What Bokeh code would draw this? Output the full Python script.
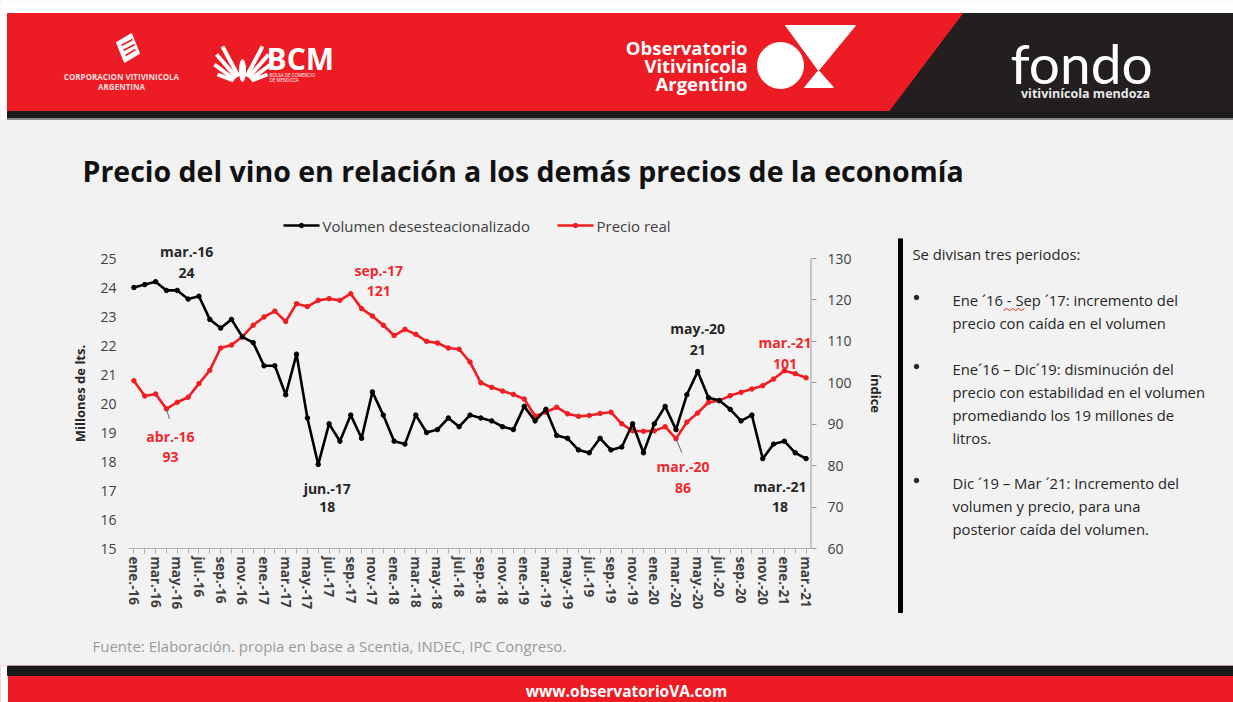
from bokeh.plotting import figure
from bokeh.models import Range1d, LinearAxis, FixedTicker, Label
from bokeh.layouts import column, row
from bokeh.embed import file_html
from bokeh.resources import INLINE
from bokeh.core.properties import value

# ---------------- data ----------------
tick_labels = ["ene.-16", "mar.-16", "may.-16", "jul.-16", "sep.-16", "nov.-16",
               "ene.-17", "mar.-17", "may.-17", "jul.-17", "sep.-17", "nov.-17",
               "ene.-18", "mar.-18", "may.-18", "jul.-18", "sep.-18", "nov.-18",
               "ene.-19", "mar.-19", "may.-19", "jul.-19", "sep.-19", "nov.-19",
               "ene.-20", "mar.-20", "may.-20", "jul.-20", "sep.-20", "nov.-20",
               "ene.-21", "mar.-21"]

volumen = [24.0, 24.1, 24.2, 23.9, 23.9, 23.6, 23.7, 22.9, 22.6, 22.9, 22.3, 22.1,
           21.3, 21.3, 20.3, 21.7, 19.5, 17.9, 19.3, 18.7, 19.6, 18.8, 20.4, 19.6,
           18.7, 18.6, 19.6, 19.0, 19.1, 19.5, 19.2, 19.6, 19.5, 19.4, 19.2, 19.1,
           19.9, 19.4, 19.8, 18.9, 18.8, 18.4, 18.3, 18.8, 18.4, 18.5, 19.3, 18.3,
           19.3, 19.9, 19.1, 20.3, 21.1, 20.2, 20.1, 19.8, 19.4, 19.6, 18.1, 18.6,
           18.7, 18.3, 18.1]

precio = [100.5, 96.8, 97.3, 93.7, 95.3, 96.5, 99.8, 103.0, 108.4, 109.1, 111.1, 113.9,
          115.9, 117.3, 114.8, 119.1, 118.4, 119.9, 120.3, 119.9, 121.5, 117.9, 116.1, 113.9,
          111.4, 112.9, 111.7, 110.0, 109.6, 108.4, 108.1, 105.0, 100.0, 98.9, 98.0, 97.2,
          96.1, 92.0, 92.9, 94.1, 92.5, 91.9, 92.1, 92.6, 92.9, 90.1, 88.4, 88.3,
          88.4, 89.4, 86.5, 90.5, 92.7, 95.3, 95.7, 96.9, 97.7, 98.5, 99.3, 100.9,
          102.9, 102.2, 101.2]

left_ticks = [15, 16, 17, 18, 19, 20, 21, 22, 23, 24, 25]
right_ticks = [60, 70, 80, 90, 100, 110, 120, 130]

# highlighted points: (month index, series, name, value text)
highlights = [(2, "vol", "mar.-16", "24"), (3, "pre", "abr.-16", "93"),
              (20, "pre", "sep.-17", "121"), (17, "vol", "jun.-17", "18"),
              (52, "vol", "may.-20", "21"), (50, "pre", "mar.-20", "86"),
              (62, "pre", "mar.-21", "101"), (62, "vol", "mar.-21", "18")]

side_title = "Se divisan tres periodos:"
side_bullets = [["Ene \u00b416 - Sep \u00b417: incremento del", "precio con ca\u00edda en el volumen"],
                ["Ene\u00b416 \u2013 Dic\u00b419: disminuci\u00f3n del", "precio con estabilidad en el volumen",
                 "promediando los 19 millones de", "litros."],
                ["Dic \u00b419 \u2013 Mar \u00b421: Incremento del", "volumen y precio, para una",
                 "posterior ca\u00edda del volumen."]]

title_text = "Precio del vino en relaci\u00f3n a los dem\u00e1s precios de la econom\u00eda"
source_text = "Fuente: Elaboraci\u00f3n. propia en base a Scentia, INDEC, IPC Congreso."
url_text = "www.observatorioVA.com"
legend_labels = ["Volumen desesteacionalizado", "Precio real"]

# ---------------- styles ----------------
FONT = "Open Sans"
BG = "#f2f2f2"
RED = "#ed1c24"
LINE_RED = "#f01e23"
DARK = "#231f20"
TXT = "#262626"
W = 1233


def canvas(width, x0, x1, y_top, y_bottom, bg):
    return figure(width=width, height=y_bottom - y_top, x_range=Range1d(x0, x1),
                  y_range=Range1d(y_bottom, y_top), x_axis_type=None, y_axis_type=None,
                  min_border=0, toolbar_location=None, output_backend="svg",
                  outline_line_color=None, background_fill_color=bg, border_fill_color=bg)


# ---------------- header (page y 0..120) ----------------
hdr = canvas(W, 0, W, 0, 120, "white")
hdr.quad(left=7, right=W, top=13, bottom=111, color=RED)
hdr.quad(left=7, right=W, top=111, bottom=118, color="#1c1c1c")
hdr.quad(left=7, right=W, top=118, bottom=120, color="#8a8a8a")
hdr.patch(x=[963, W, W, 889], y=[13, 13, 111, 111], color=DARK)

# Corporacion icon
hdr.patch(x=[116, 131, 139, 124], y=[42, 33, 53, 62], color="white")
hdr.multi_line(xs=[[121, 132], [123, 134], [125, 135]], ys=[[45, 39], [50, 44], [55, 49]],
               line_color=RED, line_width=1.5)
hdr.text(x=[121, 121], y=[76, 86], text=["CORPORACION VITIVINICOLA", "ARGENTINA"],
         text_font=value(FONT), text_font_size="8px", text_font_style="bold",
         text_color="#f6dede", text_align="center", text_baseline="middle")

# BCM icon (wings)
hdr.multi_line(xs=[[238, 222], [236, 216], [234, 214], [233, 217], [246, 262], [248, 268], [250, 270], [251, 267]],
               ys=[[76, 46], [77, 54], [79, 64], [80, 74], [76, 46], [77, 54], [79, 64], [80, 74]],
               line_color="white", line_width=4)
hdr.ellipse(x=[242], y=[70], width=6, height=22, color="white")
hdr.text(x=[266], y=[58], text=["BCM"], text_font=value(FONT), text_font_size="30px",
         text_font_style="bold", text_color="white", text_baseline="middle")
hdr.text(x=[269, 269], y=[74, 79], text=["BOLSA DE COMERCIO", "DE MENDOZA"], text_font=value(FONT),
         text_font_size="4.5px", text_color="white", text_baseline="middle")

# Observatorio logo
hdr.text(x=[747, 747, 747], y=[47, 65, 83], text=["Observatorio", "Vitivin\u00edcola", "Argentino"],
         text_font=value(FONT), text_font_size="18.5px", text_font_style="bold",
         text_color="white", text_align="right", text_baseline="middle")
hdr.circle(x=[780], y=[65], radius=23, color="white")
hdr.patch(x=[785, 855, 818], y=[25, 25, 70], color="white")
hdr.patch(x=[818, 804, 833], y=[70, 87, 87], color="white")

# fondo logo
hdr.text(x=[1010], y=[62], text=["fondo"], text_font=value("Lato"), text_font_size="55px",
         text_color="white", text_baseline="middle")
hdr.text(x=[1085], y=[93], text=["vitivin\u00edcola mendoza"], text_font=value(FONT),
         text_font_size="12.5px", text_font_style="bold", text_color="#e8e8e8",
         text_align="center", text_baseline="middle")

# ---------------- title + legend band (page y 120..238) ----------------
FT = 238                                      # top of the chart frame (page px)
top = canvas(W, 0, W, 120, FT, BG)
top.text(x=[82], y=[170], text=[title_text], text_font=value(FONT), text_font_size="28.5px",
         text_font_style="bold", text_color="#111111", text_baseline="middle")
# legend: sample line + marker, then label
lg_x0 = [283, 557]
lg_col = ["black", LINE_RED]
for x0, c, lab in zip(lg_x0, lg_col, legend_labels):
    top.line(x=[x0, x0 + 36], y=[225, 225], line_color=c, line_width=2.6)
    top.scatter(x=[x0 + 18], y=[225], size=4.5, color=c)
    top.text(x=[x0 + 39], y=[225], text=[lab], text_font=value(FONT), text_font_size="15px",
             text_color="#404040", text_baseline="middle")

# ---------------- chart (page y FT..630, x 0..890) ----------------
FL, FR, FB = 128, 811, 548                    # frame in page pixels
Y15, Y25 = 548, 258                           # page y of 15 and 25 on the left axis
XS, XE = -0.5, 62.5
PX_X = (FR - FL) / (XE - XS)
PX_Y = (Y15 - Y25) / (25 - 15)
PX_R = (Y15 - Y25) / (130 - 60)
YE = 25 + (Y25 - FT) / PX_Y
RE = 130 + (Y25 - FT) / PX_R

p = figure(width=890, height=630 - FT, x_range=Range1d(XS, XE), y_range=Range1d(15, YE),
           min_border_left=FL, min_border_right=890 - FR, min_border_top=0,
           min_border_bottom=630 - FB, toolbar_location=None, output_backend="svg",
           background_fill_color=BG, border_fill_color=BG, outline_line_color=None)
p.grid.visible = False
p.extra_y_ranges = {"idx": Range1d(60, RE)}

months = list(range(len(volumen)))

# left axis
ya = p.yaxis[0]
ya.ticker = FixedTicker(ticks=left_ticks)
ya.axis_line_color = None
ya.major_tick_out = 0
ya.major_tick_in = 0
ya.minor_tick_out = 0
ya.minor_tick_in = 0
ya.major_label_standoff = 12
ya.major_label_text_font = FONT
ya.major_label_text_font_size = "14px"
ya.major_label_text_color = "#404040"
ya.axis_label = "Millones de lts."
ya.axis_label_text_font = FONT
ya.axis_label_text_font_size = "13px"
ya.axis_label_text_font_style = "bold"
ya.axis_label_text_color = TXT
ya.axis_label_standoff = 8

# bottom axis
xa = p.xaxis[0]
xa.ticker = FixedTicker(ticks=[2 * k for k in range(len(tick_labels))], minor_ticks=months)
xa.major_label_overrides = {2 * k: lab for k, lab in enumerate(tick_labels)}
xa.major_label_orientation = "vertical"
xa.axis_line_color = "#b0b0b0"
xa.major_tick_line_color = "#b0b0b0"
xa.minor_tick_line_color = "#b0b0b0"
xa.major_tick_out = 5
xa.major_tick_in = 0
xa.minor_tick_out = 5
xa.minor_tick_in = 0
xa.major_label_standoff = 3
xa.major_label_text_font = FONT
xa.major_label_text_font_size = "13.5px"
xa.major_label_text_font_style = "bold"
xa.major_label_text_color = "#404040"

# right axis (its line is drawn only over 60..130 below)
ra = LinearAxis(y_range_name="idx", ticker=FixedTicker(ticks=right_ticks), axis_label="\u00edndice")
ra.axis_line_color = None
ra.major_tick_line_color = "#9a9a9a"
ra.major_tick_out = 5
ra.major_tick_in = 0
ra.minor_tick_out = 0
ra.minor_tick_in = 0
ra.major_label_standoff = 11
ra.major_label_text_font = FONT
ra.major_label_text_font_size = "14px"
ra.major_label_text_color = "#404040"
ra.axis_label_text_font = FONT
ra.axis_label_text_font_size = "13px"
ra.axis_label_text_font_style = "bold"
ra.axis_label_text_color = TXT
ra.axis_label_standoff = 12
if "axis_label_orientation" in ra.properties():
    ra.axis_label_orientation = "vertical"
p.add_layout(ra, "right")
p.segment(x0=[XE], y0=[right_ticks[0]], x1=[XE], y1=[right_ticks[-1]], y_range_name="idx",
          line_color="#9a9a9a", line_width=2)

# series
p.line(months, precio, y_range_name="idx", line_color=LINE_RED, line_width=2.6)
p.scatter(months, precio, y_range_name="idx", size=4.5, color=LINE_RED)
p.line(months, volumen, line_color="black", line_width=2.6)
p.scatter(months, volumen, size=4.5, color="black")

# leader lines (pixel offsets from the highlighted point)
lead = {3: (3, 10), 50: (6, 14)}
for i, (ox, oy) in lead.items():
    p.segment(x0=[i], y0=[precio[i]], x1=[i + ox / PX_X], y1=[precio[i] - oy / PX_R],
              y_range_name="idx", line_color="#606060", line_width=1)

# highlight labels: pixel offsets (dx, dy_name, dy_value)
offsets = {("mar.-16", "vol"): (31, 30, 9), ("abr.-16", "pre"): (4, -28, -48),
           ("sep.-17", "pre"): (28, 23, 3), ("jun.-17", "vol"): (9, -24, -43),
           ("may.-20", "vol"): (0, 43, 22), ("mar.-20", "pre"): (7, -28, -49),
           ("mar.-21", "pre"): (-21, 35, 14), ("mar.-21", "vol"): (-26, -28, -48)}
for i, ser, name, val in highlights:
    ox, oy1, oy2 = offsets[(name, ser)]
    if ser == "pre":
        yv, rng, col = precio[i], "idx", "#f0282d"
    else:
        yv, rng, col = volumen[i], "default", TXT
    for txt, oy in ((name, oy1), (val, oy2)):
        p.add_layout(Label(x=i, y=yv, y_range_name=rng, x_offset=ox, y_offset=oy, text=txt,
                           text_align="center", text_baseline="middle", text_font=FONT,
                           text_font_size="14px", text_font_style="bold", text_color=col))

# ---------------- side text panel (page y FT..630, x 890..1233) ----------------
side = canvas(W - 890, 890, W, FT, 630, BG)
side.quad(left=898, right=902, top=FT, bottom=612, color="black")
sx, sy, st = [912], [253], [side_title]
bx, by = [], []
y_starts = [299, 368, 482]
for lines, y0 in zip(side_bullets, y_starts):
    bx.append(916)
    by.append(y0 - 2)
    for j, ln in enumerate(lines):
        sx.append(952)
        sy.append(y0 + 23 * j)
        st.append(ln)
side.text(x=sx, y=sy, text=st, text_font=value(FONT), text_font_size="14.8px", text_color=TXT,
          text_baseline="middle")
side.scatter(x=bx, y=by, size=4.5, color=TXT)
side.line(x=[1003, 1006, 1009, 1012, 1015, 1018, 1021, 1024],
          y=[310, 308, 310, 308, 310, 308, 310, 308], line_color="#e02020", line_width=1)

# ---------------- source band (page y 630..665) ----------------
src = canvas(W, 0, W, 630, 665, BG)
src.text(x=[92], y=[645], text=[source_text], text_font=value(FONT), text_font_size="15px",
         text_color="#9a9a9a", text_baseline="middle")

# ---------------- footer (page y 665..702) ----------------
ftr = canvas(W, 0, W, 665, 702, RED)
ftr.quad(left=0, right=7, top=665, bottom=702, color="white")
ftr.quad(left=7, right=W, top=665, bottom=666, color="#9a9a9a")
ftr.quad(left=7, right=W, top=666, bottom=675, color="#1a1a1a")
ftr.text(x=[626], y=[690], text=[url_text], text_font=value(FONT), text_font_size="15.5px",
         text_font_style="bold", text_color="white", text_align="center", text_baseline="middle")

mid = row(column(p, styles={"background-color": BG}), side, styles={"background-color": BG})
layout = column(hdr, top, mid, src, ftr, styles={"background-color": BG})
open("out.html", "w").write(file_html(layout, INLINE))
